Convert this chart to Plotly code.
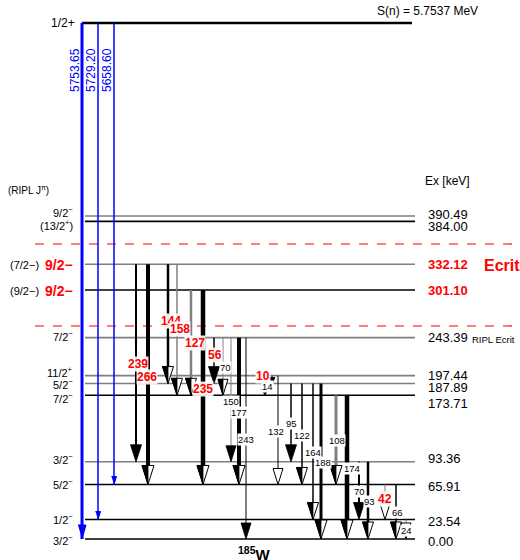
import plotly.graph_objects as go

# ---------------- data ----------------
level_E = [0.00, 23.54, 65.91, 93.36, 173.71, 187.89, 197.44, 243.39, 301.10, 332.12, 384.00, 390.49]
level_text = ["0.00", "23.54", "65.91", "93.36", "173.71", "187.89", "197.44", "243.39", "301.10", "332.12", "384.00", "390.49"]
level_spin = ["3/2<sup>−</sup>", "1/2<sup>−</sup>", "5/2<sup>−</sup>", "3/2<sup>−</sup>", "7/2<sup>−</sup>",
              "5/2<sup>−</sup>", "11/2<sup>+</sup>", "7/2<sup>−</sup>", "9/2−", "9/2−",
              "(13/2<sup>+</sup>)", "9/2<sup>−</sup>"]
level_ripl_spin = ["", "", "", "", "", "", "", "", "(9/2−)", "(7/2−)", "", ""]
level_red = [False] * 8 + [True, True, False, False]
level_gray = [False, False, False, True, False, True, True, True, False, True, False, True]

gam_label = ["239", "266", "144", "158", "127", "235", "56", "70", "150", "177", "243", "10", "14",
             "132", "95", "122", "164", "188", "108", "174", "70", "93", "42", "66", "24"]
gam_from = [332.12, 332.12, 332.12, 332.12, 301.10, 301.10, 243.39, 243.39, 243.39, 243.39, 243.39,
            197.44, 187.89, 197.44, 187.89, 187.89, 187.89, 187.89, 173.71, 173.71, 93.36, 93.36,
            65.91, 65.91, 23.54]
gam_to = [93.36, 65.91, 187.89, 173.71, 173.71, 65.91, 187.89, 173.71, 93.36, 65.91, 0.00,
          187.89, 173.71, 65.91, 93.36, 65.91, 23.54, 0.00, 65.91, 0.00, 23.54, 0.00,
          23.54, 0.00, 0.00]
gam_red = [1, 1, 1, 1, 1, 1, 1, 0, 0, 0, 0, 1, 0, 0, 0, 0, 0, 0, 0, 0, 0, 0, 1, 0, 0]
# arrow head type: F filled, H half, O open, T tiny
gam_head = ["F", "H", "H", "H", "H", "H", "F", "H", "F", "H", "F", "T", "T",
            "O", "F", "H", "H", "H", "H", "H", "F", "H", "O", "H", "O"]

capture_E = [5753.65, 5729.20, 5658.60]
capture_to = [0.00, 23.54, 65.91]
capture_text = ["5753.65", "5729.20", "5658.60"]
ecrit_bounds = [257.5, 356.6]

# ---------------- layout / style ----------------
W, H = 520, 560
Y_MIN, Y_MAX = -25.4, 651.6
PX = (Y_MAX - Y_MIN) / H          # keV per pixel


def ey(py):
    return Y_MAX - py * PX


CAPTURE_POS = ey(23)              # broken axis: capture state drawn here
LVL_X0, LVL_X1 = 85, 415
FONT = "Liberation Sans, Arial, sans-serif"

gam_x = [136, 148, 168, 177, 191, 203, 214, 223, 231, 239, 246, 272, 265,
         278, 291, 302, 313, 321, 336, 347, 359, 368, 385, 396, 406]
gam_w = [2, 4, 2.5, 1.5, 2.5, 4.5, 1.5, 1, 1, 4, 1, 1, 1,
         1, 1.5, 1.5, 1.5, 3, 3, 4.5, 2, 2.5, 1, 1.5, 1]
gam_gray = [0, 0, 0, 1, 1, 0, 0, 1, 1, 0, 0, 0, 0,
            0, 0, 0, 0, 0, 1, 0, 0, 0, 1, 0, 1]
gam_lab_xy = [(138, 364), (147, 377), (171, 321), (180, 329), (195, 343), (203, 389), (215, 355),
              (225, 367), (231, 401), (239, 412), (246, 439), (263, 376), (267, 386),
              (276, 431), (291, 423), (302, 435), (313, 452), (323, 462), (337, 440), (352, 468),
              (359, 491), (369, 501), (385, 499), (397, 512), (406, 530)]
spin_dy = [1, -1, 0, -3, 3, 0, -4, -2, 1, 1, 4, -4]
ener_dy = [3, 2, 2, -3, 8, 4, 0, 0, 1, 0, 5, -1]
cap_x = [82, 98, 114]
cap_w = [3, 1.5, 1.5]
cap_lab_x = [75, 91, 107]

fig = go.Figure()


def add_line(xs, ys, color, width, dash="solid"):
    fig.add_trace(go.Scatter(x=xs, y=ys, mode="lines", line=dict(color=color, width=width, dash=dash),
                             hoverinfo="skip", showlegend=False))


# level lines
for E, g in zip(level_E, level_gray):
    add_line([LVL_X0, LVL_X1], [E, E], "#7f7f7f" if g else "black", 1.6)
# capture state
add_line([cap_x[0], 412], [CAPTURE_POS, CAPTURE_POS], "black", 2.5)
# Ecrit dashed lines
for b in ecrit_bounds:
    add_line([35, W], [b, b], "#ff0000", 1.2, "dash")

# blue primary transitions
blue_poly_x, blue_poly_y = [], []
for x, w, Et in zip(cap_x, cap_w, capture_to):
    add_line([x, x], [CAPTURE_POS, Et], "#0000ff", w)
    L, hw = (14, 4) if w >= 3 else (8, 2.5)
    blue_poly_x += [x - hw, x + hw, x, None]
    blue_poly_y += [Et + L * PX, Et + L * PX, Et, None]

# gamma transitions
white_x, white_y, black_x, black_y = [], [], [], []
for i in range(len(gam_label)):
    x, w, Ef, Et = gam_x[i], gam_w[i], gam_from[i], gam_to[i]
    head = gam_head[i]
    if head == "T":
        L, hw = 6, 3
    elif w >= 3:
        L, hw = 19, 6
    elif w >= 1.5:
        L, hw = 17, 5.5
    else:
        L, hw = 16, 5
    base = Et + L * PX
    col = "#7f7f7f" if gam_gray[i] else "black"
    add_line([x, x], [Ef, base], col, w, "dot" if gam_label[i] == "24" else "solid")
    tri_x = [x - hw, x + hw, x, x - hw, None]
    tri_y = [base, base, Et, base, None]
    if head in ("F", "T"):
        black_x += tri_x
        black_y += tri_y
    else:
        white_x += tri_x
        white_y += tri_y
        if head == "H":
            black_x += [x - hw, x, x, x - hw, None]
            black_y += [base, base, Et, base, None]

fig.add_trace(go.Scatter(x=white_x, y=white_y, mode="lines", fill="toself", fillcolor="white",
                         line=dict(color="black", width=1), hoverinfo="skip", showlegend=False))
fig.add_trace(go.Scatter(x=black_x, y=black_y, mode="lines", fill="toself", fillcolor="black",
                         line=dict(color="black", width=0.8), hoverinfo="skip", showlegend=False))
fig.add_trace(go.Scatter(x=blue_poly_x, y=blue_poly_y, mode="lines", fill="toself", fillcolor="#0000ff",
                         line=dict(color="#0000ff", width=1), hoverinfo="skip", showlegend=False))

ann = []


def txt(x, py, s, size, color="black", anchor="center", bold=False, bg=None, angle=0):
    a = dict(x=x, y=ey(py), xref="x", yref="y", text=("<b>%s</b>" % s) if bold else s,
             showarrow=False, xanchor=anchor, yanchor="middle", textangle=angle,
             font=dict(family=FONT, size=size, color=color), borderpad=0)
    if bg:
        a["bgcolor"] = bg
    ann.append(a)


for i, E in enumerate(level_E):
    py = (Y_MAX - E) / PX
    red = level_red[i]
    txt(427, py + ener_dy[i], level_text[i], 13, "#ff0000" if red else "black", "left", bold=red)
    txt(74, py + spin_dy[i], level_spin[i], 14 if red else 11, "#ff0000" if red else "black", "right", bold=red)
    if level_ripl_spin[i]:
        txt(40, py + spin_dy[i], level_ripl_spin[i], 11, "black", "right")

for i, s in enumerate(gam_label):
    lx, ly = gam_lab_xy[i]
    if gam_red[i]:
        txt(lx, ly, s, 12, "#ff0000", bold=True, bg="rgba(255,255,255,0.9)")
    else:
        txt(lx, ly, s, 9.5, "black", bg="white")

for i in range(3):
    txt(cap_lab_x[i], 70, capture_text[i], 12, "#0000ff", angle=-90)

txt(376, 11, "S(n) = 5.7537 MeV", 12, anchor="left")
txt(76, 23, "1/2+", 12, anchor="right")
txt(424, 181, "Ex [keV]", 12, anchor="left")
txt(7, 190, "(RIPL J<sup>π</sup>)", 10, anchor="left")
txt(483, 265, "Ecrit", 16, "#ff0000", anchor="left", bold=True)
txt(471, 339, "RIPL Ecrit", 9.5, anchor="left")
txt(254, 553, "<sup>185</sup>W", 15, anchor="center", bold=True)

fig.update_layout(
    width=W, height=H, autosize=False,
    margin=dict(l=0, r=0, t=0, b=0),
    paper_bgcolor="white", plot_bgcolor="white",
    xaxis=dict(range=[0, W], visible=False, fixedrange=True),
    yaxis=dict(range=[Y_MIN, Y_MAX], visible=False, fixedrange=True),
    annotations=ann, showlegend=False,
)
fig.write_html("out.html", config={"displayModeBar": False},
               post_script="document.body.style.margin='0';document.body.style.overflow='hidden';")
